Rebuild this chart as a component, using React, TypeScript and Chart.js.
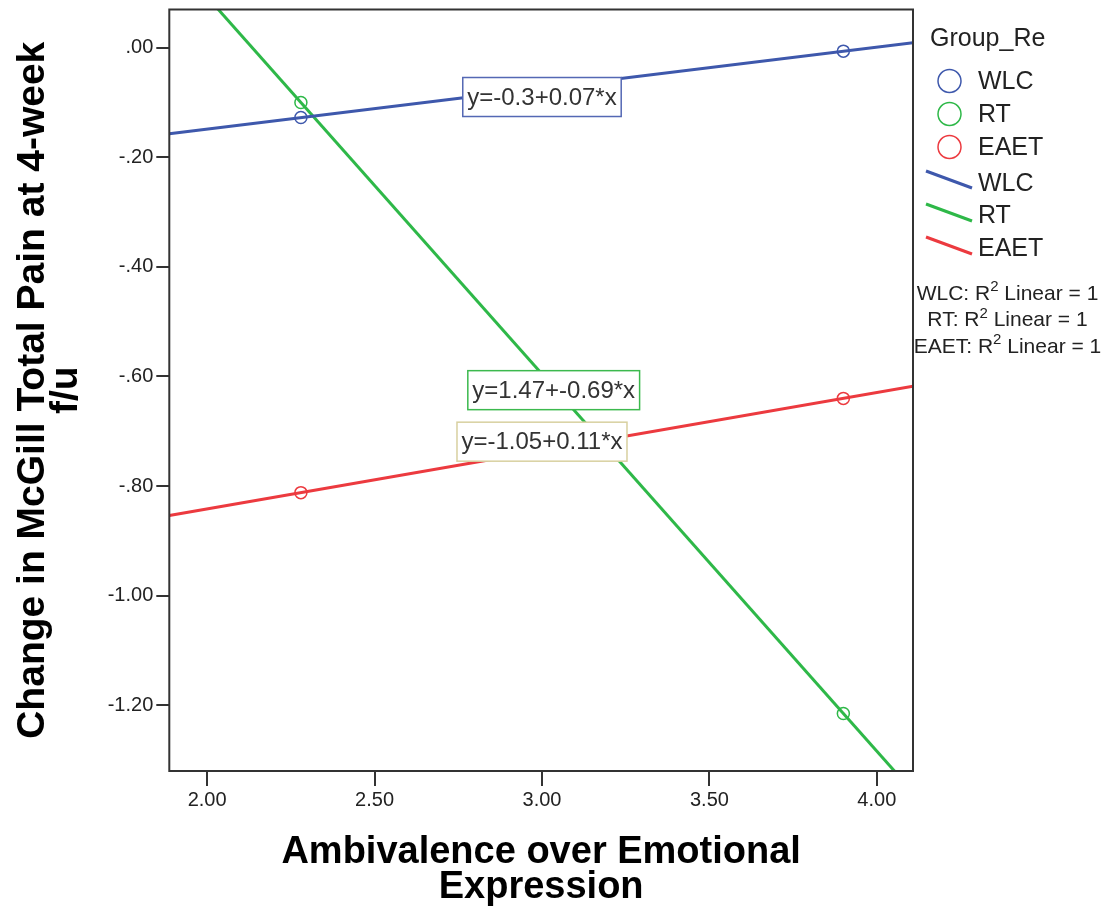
import { useEffect, useRef } from 'react';
import { Chart, registerables } from 'chart.js';

Chart.register(...registerables);

const FONT = '"Liberation Sans", Arial, Helvetica, sans-serif';

// Ambivalence over Emotional Expression scores observed for each group
const AEE_SCORES = [2.28, 3.9];
// Change in McGill Total Pain at 4-week follow-up, per group, at those scores
const WLC_CHANGE = [-0.1275, -0.0063];
const RT_CHANGE = [-0.1, -1.215];
const EAET_CHANGE = [-0.812, -0.64];

const GROUPS = ['WLC', 'RT', 'EAET'];
const GROUP_CHANGES = [WLC_CHANGE, RT_CHANGE, EAET_CHANGE];
const GROUP_COLORS = ['#3e58ac', '#2eb848', '#ec3a3f'];
const EQUATION_BORDERS = ['#5468b4', '#3cb94e', '#d8d0a0'];

// anchor (data units) of each fit-equation box
const EQUATION_AT_X = [3.0, 3.035, 3.0];
const EQUATION_AT_Y = [-0.09, -0.625, -0.719];

const X_TICKS = [2, 2.5, 3, 3.5, 4];
const Y_TICKS = [0, -0.2, -0.4, -0.6, -0.8, -1.0, -1.2];
const X_MIN = 1.887;
const X_MAX = 4.108;
const Y_MIN = -1.32;
const Y_MAX = 0.0697;

const X_TITLE = ['Ambivalence over Emotional', 'Expression'];
const Y_TITLE = ['Change in McGill Total Pain at 4-week', 'f/u'];
const LEGEND_TITLE = 'Group_Re';

function linearFit(xs: number[], ys: number[]) {
  const n = xs.length;
  const mx = xs.reduce((a, b) => a + b, 0) / n;
  const my = ys.reduce((a, b) => a + b, 0) / n;
  let sxy = 0;
  let sxx = 0;
  for (let i = 0; i < n; i++) {
    sxy += (xs[i] - mx) * (ys[i] - my);
    sxx += (xs[i] - mx) * (xs[i] - mx);
  }
  const slope = sxy / sxx;
  return { slope, intercept: my - slope * mx };
}

const coef = (v: number) => String(Number(v.toFixed(2)));
const yTickLabel = (v: number) => v.toFixed(2).replace(/^(-?)0\./, '$1.');

export default function App() {
  const canvasRef = useRef<HTMLCanvasElement | null>(null);

  useEffect(() => {
    const canvas = canvasRef.current;
    if (!canvas) return;

    const fits = GROUP_CHANGES.map((ys) => linearFit(AEE_SCORES, ys));
    const equations = fits.map((f) => `y=${coef(f.intercept)}+${coef(f.slope)}*x`);

    const datasets: any[] = [];
    GROUPS.forEach((g, i) => {
      datasets.push({
        type: 'scatter',
        label: g,
        data: AEE_SCORES.map((x, k) => ({ x, y: GROUP_CHANGES[i][k] })),
        borderColor: GROUP_COLORS[i],
        backgroundColor: 'rgba(0,0,0,0)',
        pointRadius: 6,
        pointBorderWidth: 1.5,
        showLine: false,
        order: 0,
      });
    });
    fits.forEach((f, i) => {
      datasets.push({
        type: 'line',
        label: GROUPS[i],
        data: [X_MIN, X_MAX].map((x) => ({ x, y: f.intercept + f.slope * x })),
        borderColor: GROUP_COLORS[i],
        borderWidth: 3,
        pointRadius: 0,
        fill: false,
        clip: 0,
        order: 1,
      });
    });

    const decorations = {
      id: 'decorations',
      afterDraw(chart: any) {
        const { ctx, chartArea: a, scales } = chart;
        ctx.save();

        // plot frame
        ctx.strokeStyle = '#333';
        ctx.lineWidth = 2;
        ctx.strokeRect(a.left, a.top, a.right - a.left, a.bottom - a.top);

        // fit-equation boxes
        ctx.font = `24px ${FONT}`;
        ctx.textAlign = 'center';
        ctx.textBaseline = 'middle';
        equations.forEach((txt, i) => {
          const cx = scales.x.getPixelForValue(EQUATION_AT_X[i]);
          const cy = scales.y.getPixelForValue(EQUATION_AT_Y[i]);
          const w = ctx.measureText(txt).width + 9;
          const h = 39;
          ctx.fillStyle = '#fff';
          ctx.fillRect(cx - w / 2, cy - h / 2, w, h);
          ctx.strokeStyle = EQUATION_BORDERS[i];
          ctx.lineWidth = 1.5;
          ctx.strokeRect(cx - w / 2, cy - h / 2, w, h);
          ctx.fillStyle = '#333';
          ctx.fillText(txt, cx, cy + 1);
        });

        // legend
        ctx.textAlign = 'left';
        ctx.font = `25px ${FONT}`;
        ctx.fillStyle = '#222';
        ctx.fillText(LEGEND_TITLE, 930, 39);
        GROUPS.forEach((g, i) => {
          const cy = 81 + i * 33;
          ctx.beginPath();
          ctx.arc(949.5, cy, 11.5, 0, Math.PI * 2);
          ctx.strokeStyle = GROUP_COLORS[i];
          ctx.lineWidth = 1.5;
          ctx.stroke();
          ctx.fillStyle = '#222';
          ctx.fillText(g, 978, cy + 1);
        });
        GROUPS.forEach((g, i) => {
          const ly = 171 + i * 33;
          ctx.beginPath();
          ctx.moveTo(926, ly);
          ctx.lineTo(972, ly + 17);
          ctx.strokeStyle = GROUP_COLORS[i];
          ctx.lineWidth = 3;
          ctx.stroke();
          ctx.fillStyle = '#222';
          ctx.fillText(g, 978, 184 + i * 32.5);
        });

        // R squared notes
        GROUPS.forEach((g, i) => {
          const cy = 292 + i * 26.7;
          const big = `21px ${FONT}`;
          const small = `15px ${FONT}`;
          const a1 = `${g}: R`;
          const a2 = '2';
          const a3 = ' Linear = 1';
          ctx.font = big;
          const w1 = ctx.measureText(a1).width;
          const w3 = ctx.measureText(a3).width;
          ctx.font = small;
          const w2 = ctx.measureText(a2).width;
          const total = w1 + w2 + w3;
          let x = 1007.5 - total / 2;
          ctx.fillStyle = '#222';
          ctx.textBaseline = 'alphabetic';
          ctx.font = big;
          ctx.fillText(a1, x, cy + 7.5);
          x += w1;
          ctx.font = small;
          ctx.fillText(a2, x, cy - 1);
          x += w2;
          ctx.font = big;
          ctx.fillText(a3, x, cy + 7.5);
          ctx.textBaseline = 'middle';
        });

        ctx.restore();
      },
    };

    const chart = new Chart(canvas, {
      type: 'scatter',
      data: { datasets },
      options: {
        responsive: false,
        devicePixelRatio: 1,
        animation: false,
        events: [],
        layout: { padding: { top: 9.5, right: 192, bottom: 0, left: 0 } },
        plugins: { legend: { display: false }, tooltip: { enabled: false } },
        scales: {
          x: {
            type: 'linear',
            min: X_MIN,
            max: X_MAX,
            afterBuildTicks: (s: any) => {
              s.ticks = X_TICKS.map((value) => ({ value }));
            },
            afterFit: (s: any) => {
              s.height = 139;
              s.paddingLeft = 0;
              s.paddingRight = 0;
            },
            ticks: {
              font: { family: FONT, size: 20 },
              color: '#222',
              padding: 2,
              maxRotation: 0,
              autoSkip: false,
              callback: (v: any) => Number(v).toFixed(2),
            },
            grid: { drawOnChartArea: false, drawTicks: true, tickLength: 15, color: '#333', lineWidth: 2 },
            border: { display: false },
            title: {
              display: true,
              text: X_TITLE,
              color: '#000',
              font: { family: FONT, size: 38, weight: 'bold', lineHeight: 0.92 },
              padding: { top: 0, bottom: 5 },
            },
          },
          y: {
            type: 'linear',
            min: Y_MIN,
            max: Y_MAX,
            afterBuildTicks: (s: any) => {
              s.ticks = Y_TICKS.map((value) => ({ value }));
            },
            afterFit: (s: any) => {
              s.width = 169.3;
              s.paddingTop = 0;
              s.paddingBottom = 0;
            },
            ticks: {
              font: { family: FONT, size: 20 },
              color: '#222',
              padding: 3,
              autoSkip: false,
              callback: (v: any) => yTickLabel(Number(v)),
            },
            grid: { drawOnChartArea: false, drawTicks: true, tickLength: 13, color: '#333', lineWidth: 2 },
            border: { display: false },
            title: {
              display: true,
              text: Y_TITLE,
              color: '#000',
              font: { family: FONT, size: 39, weight: 'bold', lineHeight: 0.84 },
              padding: { top: 17, bottom: 0 },
            },
          },
        },
      },
      plugins: [decorations],
    } as any);

    return () => chart.destroy();
  }, []);

  return (
    <div style={{ position: 'absolute', left: 0, top: 0, width: 1105, height: 910, background: '#fff' }}>
      <canvas ref={canvasRef} width={1105} height={910} style={{ display: 'block' }} />
    </div>
  );
}
